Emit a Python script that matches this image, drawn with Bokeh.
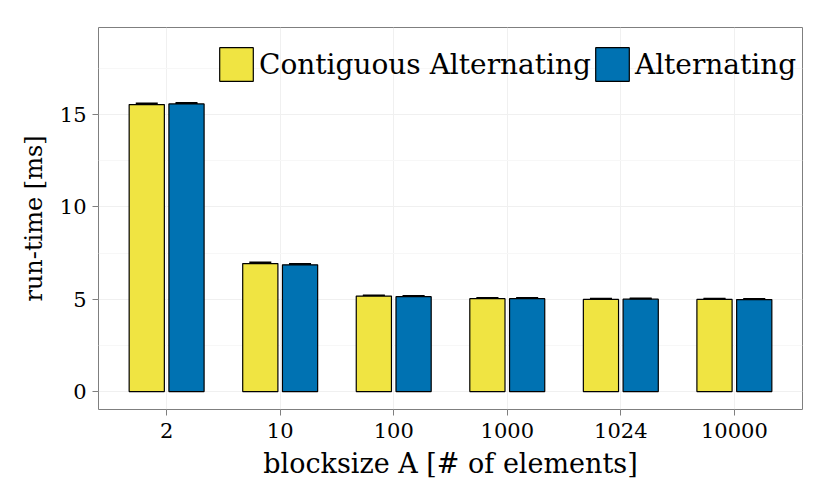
from bokeh.plotting import figure
from bokeh.models import FactorRange, ColumnDataSource, Whisker, TeeHead, Legend, LegendItem, Range1d, FixedTicker
from bokeh.transform import dodge
from bokeh.embed import file_html
from bokeh.resources import INLINE

blocksizes = ["2", "10", "100", "1000", "1024", "10000"]
series_names = ["Contiguous Alternating", "Alternating"]
contig_vals = [15.54, 6.93, 5.17, 5.03, 4.99, 4.99]
contig_err = [0.04, 0.04, 0.02, 0.02, 0.02, 0.02]
alt_vals = [15.57, 6.86, 5.14, 5.03, 5.00, 4.98]
alt_err = [0.04, 0.03, 0.02, 0.02, 0.02, 0.02]
colors = ["#F0E442", "#0072B2"]

FONT = "DejaVu Serif"
FS_TICK = "21px"
FS_XLAB = "27px"
FS_YLAB = "24px"
FS_LEG = "28px"

src = ColumnDataSource(dict(
    cat=blocksizes,
    c=contig_vals, c_lo=[v - e for v, e in zip(contig_vals, contig_err)], c_hi=[v + e for v, e in zip(contig_vals, contig_err)],
    a=alt_vals, a_lo=[v - e for v, e in zip(alt_vals, alt_err)], a_hi=[v + e for v, e in zip(alt_vals, alt_err)],
))

p = figure(width=814, height=482, output_backend="svg", toolbar_location=None,
           x_range=FactorRange(factors=blocksizes, range_padding=0.1, range_padding_units="absolute"),
           y_range=Range1d(-0.97, 19.71),
           min_border_left=98, min_border_right=12, min_border_top=27, min_border_bottom=73)

off = 0.175
w = 0.31
r1 = p.vbar(x=dodge("cat", -off, range=p.x_range), top="c", bottom=0, width=w, source=src,
            fill_color=colors[0], line_color="black", line_width=1.2)
r2 = p.vbar(x=dodge("cat", off, range=p.x_range), top="a", bottom=0, width=w, source=src,
            fill_color=colors[1], line_color="black", line_width=1.2)

for col, o in (("c", -off), ("a", off)):
    wk = Whisker(base=dodge("cat", o, range=p.x_range), upper=col + "_hi", lower=col + "_lo", source=src,
                 line_color="black", line_width=1.5,
                 upper_head=TeeHead(size=22, line_color="black", line_width=2.5),
                 lower_head=TeeHead(size=22, line_color="black", line_width=2.5))
    p.add_layout(wk)

legend = Legend(items=[LegendItem(label=series_names[0], renderers=[r1]),
                       LegendItem(label=series_names[1], renderers=[r2])],
                orientation="horizontal", location=(117, 324),
                glyph_width=42, glyph_height=42, label_standoff=2, spacing=0,
                label_text_font=FONT, label_text_font_size=FS_LEG, label_text_color="black",
                label_text_baseline="middle",
                background_fill_alpha=0, border_line_color=None, margin=0, padding=6)
p.add_layout(legend)

p.outline_line_color = "#7f7f7f"
p.outline_line_width = 1
p.background_fill_color = "white"
p.border_fill_color = "white"

p.xgrid.grid_line_color = "#f0f0f0"
p.ygrid.grid_line_color = "#f0f0f0"
p.ygrid.minor_grid_line_color = "#f7f7f7"
p.yaxis.ticker = FixedTicker(ticks=[0, 5, 10, 15], minor_ticks=[2.5, 7.5, 12.5, 17.5])

for ax in (p.xaxis[0], p.yaxis[0]):
    ax.axis_line_color = None
    ax.major_tick_line_color = "#7f7f7f"
    ax.major_tick_out = 6
    ax.major_tick_in = 0
    ax.minor_tick_line_color = None
    ax.major_label_text_font = FONT
    ax.major_label_text_font_size = FS_TICK
    ax.major_label_text_color = "black"
    ax.axis_label_text_font = FONT
    ax.axis_label_text_font_style = "normal"
    ax.axis_label_text_color = "black"

p.xaxis.axis_label = "blocksize A [# of elements]"
p.yaxis.axis_label = "run-time [ms]"
p.xaxis.axis_label_text_font_size = FS_XLAB
p.yaxis.axis_label_text_font_size = FS_YLAB
p.xaxis.major_label_standoff = 7
p.xaxis.axis_label_standoff = 7
p.yaxis.major_label_standoff = 6
p.yaxis.axis_label_standoff = 9

open("out.html", "w").write(file_html(p, INLINE))
